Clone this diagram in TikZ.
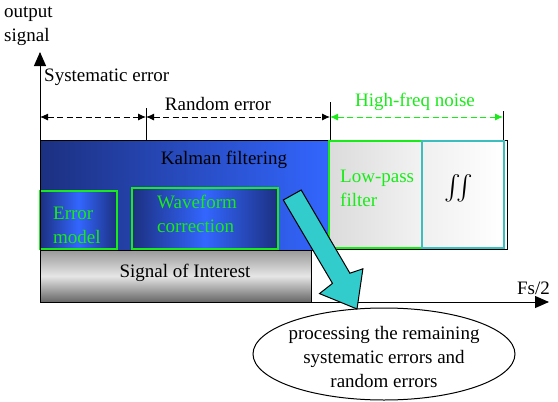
\documentclass[tikz,border=0pt]{standalone}
\usepackage{fontspec}
\setmainfont{Liberation Serif}
\usepackage{amsmath}
\usetikzlibrary{shapes.geometric,arrows.meta}
\definecolor{kdark}{RGB}{28,48,128}
\definecolor{klight}{RGB}{51,102,255}
\definecolor{lime}{RGB}{25,235,25}
\definecolor{teal2}{RGB}{51,204,204}
\definecolor{tealb}{RGB}{60,190,190}
\tikzset{
  txt/.style={font=\fontsize{19}{24}\selectfont, inner sep=0pt},
  gtxt/.style={txt, text=lime, align=left},
  box/.style={anchor=north west, inner sep=0pt, outer sep=0pt},
  dimarrow/.style={line width=0.9pt, dash pattern=on 6pt off 3.5pt, {Latex[length=8pt,width=7pt]}-{Latex[length=8pt,width=7pt]}},
  tick/.style={line width=0.9pt},
}
\begin{document}
\begin{tikzpicture}[x=1pt,y=-1pt]
\useasboundingbox (0,0) rectangle (558,402);
% boxes
\node[box, draw=black, line width=1pt, left color=kdark, right color=klight, minimum width=290pt, minimum height=110pt] (kal) at (40,140) {};
\node[txt] (kaltxt) at (224,160) {Kalman filtering};
\node[box, draw=black, line width=1pt, minimum width=178pt, minimum height=109pt] (outer) at (329,140) {};
\node[box, draw=lime, line width=1.3pt, left color=black!14, right color=black!5, minimum width=93pt, minimum height=107pt] (lpf) at (329,141) {};
\node[box, draw=tealb, line width=1.3pt, left color=black!6, right color=white, minimum width=82pt, minimum height=107pt] (int) at (422,141) {};
\node[gtxt, anchor=west] (lpftxt) at (340,188) {Low-pass\\filter};
\node[inner sep=0pt] (inttxt) at (459,188) {\fontsize{26}{30}\selectfont$\int\!\!\int$};
\node[box, draw=lime, line width=1.3pt, left color=kdark, right color=kdark, middle color=klight, minimum width=77pt, minimum height=58pt] (err) at (40,191) {};
\node[gtxt, anchor=west] (errtxt) at (53,225) {Error\\model};
\node[box, draw=lime, line width=1.3pt, left color=kdark, right color=kdark, middle color=klight, minimum width=146pt, minimum height=61pt] (wav) at (132,188) {};
\node[gtxt, anchor=west] (wavtxt) at (157,214) {Waveform\\correction};
\node[box, draw=black, line width=1pt, top color=black!40, bottom color=black!60, middle color=black!10, minimum width=271pt, minimum height=52pt] (sig) at (40,250) {};
\node[txt] (sigtxt) at (185,273) {Signal of Interest};
% axes
\coordinate (o) at (40,302);
\coordinate (ytop) at (40,52);
\coordinate (xend) at (549,302);
\draw[line width=1pt, -{Triangle[length=14pt,width=12pt]}] (o) -- (ytop);
\draw[line width=1pt, -{Triangle[length=14pt,width=12pt]}] (o) -- (xend);
\node[txt, anchor=west, align=left] (ylab) at (4,26) {output\\signal};
\node[txt, anchor=south east] (xlab) at (550,295) {Fs/2};
\node[txt, anchor=west] (syslab) at (44,77) {Systematic error};
% ticks
\coordinate (t1a) at (146,108); \coordinate (t1b) at (146,140);
\coordinate (t2a) at (330,102); \coordinate (t2b) at (330,140);
\coordinate (t3a) at (503,111); \coordinate (t3b) at (503,140);
\draw[tick] (t1a) -- (t1b);
\draw[tick] (t2a) -- (t2b);
\draw[tick] (t3a) -- (t3b);
\coordinate (d0) at (40,117); \coordinate (d1) at (146,117); \coordinate (d2) at (330,117); \coordinate (d3) at (503,117);
\draw[dimarrow] (d0) -- (d1);
\draw[dimarrow] (d1) -- (d2);
\draw[dimarrow, draw=lime, fill=lime] (d2) -- (d3);
\node[txt] (rndlab) at (218,104) {Random error};
\node[txt, text=lime] (hflab) at (415,102) {High-freq noise};
% ellipse
\node[ellipse, draw=black, line width=1pt, minimum width=262pt, minimum height=92pt, inner sep=0pt] (ell) at (384,354) {};
\node[txt, align=center] (elltxt) at (384,357) {processing the remaining\\systematic errors and\\random errors};
% big teal arrow
\draw[fill=teal2, draw=black, line width=1pt] (283.3,200) -- (301.2,190) -- (349.9,273.2) -- (362.9,268.8) -- (357,309) -- (319.5,293.6) -- (332.5,283.4) -- cycle;
\end{tikzpicture}
\end{document}
